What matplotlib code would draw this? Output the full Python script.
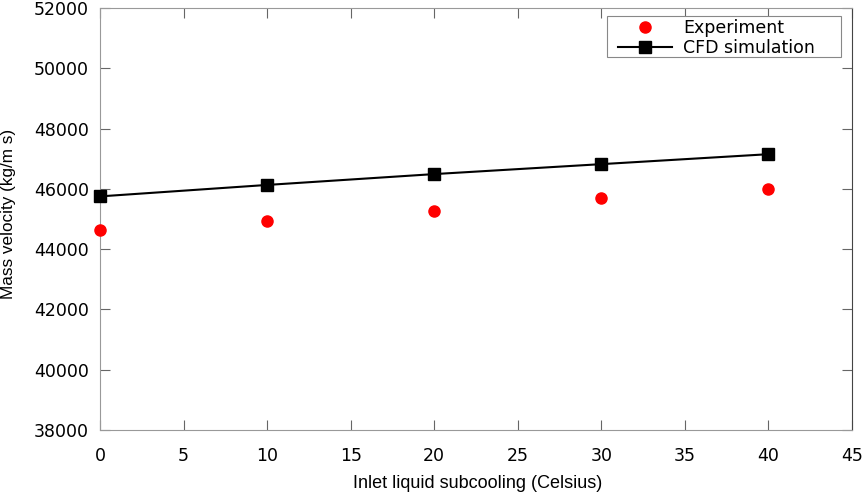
import matplotlib
matplotlib.use("Agg")
import matplotlib.pyplot as plt
from matplotlib.patches import Rectangle

subcooling = [0, 10, 20, 30, 40]
experiment = [44640, 44950, 45270, 45690, 46000]
cfd = [45750, 46130, 46490, 46820, 47150]
xticks = [0, 5, 10, 15, 20, 25, 30, 35, 40, 45]
yticks = [38000, 40000, 42000, 44000, 46000, 48000, 50000, 52000]

W, H = 865, 492
fig = plt.figure(figsize=(W / 100, H / 100), dpi=100)
ax = fig.add_axes([100 / W, 1 - 430 / H, 752 / W, 422 / H])

ax.plot(subcooling, experiment, 'o', color='#ff0000', markersize=8, label='Experiment',
        clip_on=False, zorder=3)
ax.plot(subcooling, cfd, '-s', color='black', markersize=9, linewidth=1.5,
        label='CFD simulation', clip_on=False, zorder=3)

ax.set_xlim(0, 45)
ax.set_ylim(38000, 52000)
ax.set_xticks(xticks)
ax.set_yticks(yticks)
ax.tick_params(direction='in', length=7, width=0.8, color='#666666', labelsize=12.5,
               top=True, right=True)
ax.tick_params(axis='x', pad=12)
ax.tick_params(axis='y', pad=8)
for s in ['left', 'bottom', 'top']:
    ax.spines[s].set_color('#999999')
ax.spines['right'].set_color('#444444')

fig.text(478 / W, 1 - 488 / H, 'Inlet liquid subcooling (Celsius)', family='Liberation Sans',
         fontsize=13, ha='center', va='baseline')
fig.text(9 / W, 1 - 214 / H, 'Mass velocity (kg/m s)', family='Liberation Sans',
         fontsize=12.3, ha='center', va='center', rotation=90)

# legend frame drawn separately to match asymmetric padding
frame = Rectangle((607 / W, 1 - 57 / H), (841 - 607) / W, (57 - 16) / H,
                  transform=fig.transFigure, facecolor='white',
                  edgecolor='#888888', linewidth=0.8, zorder=4, clip_on=False)
ax.add_patch(frame)
leg = ax.legend(loc='upper left', bbox_to_anchor=(613 / W, 1 - 14 / H),
                bbox_transform=fig.transFigure, fontsize=12.5, frameon=False,
                borderpad=0.3, borderaxespad=0, labelspacing=0.1,
                handlelength=3.1, handletextpad=0.65)
leg.set_zorder(6)

fig.savefig('out.png', dpi=100)
